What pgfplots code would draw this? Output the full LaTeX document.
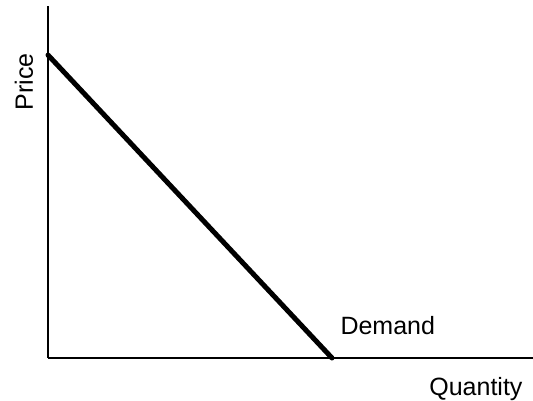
\documentclass[border=0pt]{standalone}
\usepackage{fontspec}
\setmainfont{Liberation Sans}
\usepackage{pgfplots}
\pgfplotsset{compat=1.18}

\begin{document}
\begin{tikzpicture}
\begin{axis}[
    name=ax,
    scale only axis,
    width=485pt, height=352pt,
    xmin=0, xmax=485,
    ymin=0, ymax=352,
    axis x line=bottom,
    axis y line=left,
    axis line style={-, line width=1.1pt, black},
    xtick=\empty, ytick=\empty,
    clip=false,
    font=\fontsize{25}{29}\selectfont
]
\addplot[black, line width=5pt, line cap=round] coordinates {
    (0,303)
    (284,0)
};
\node[anchor=base west] at (axis cs:289,24) {Demand};
\node[anchor=base east] at (axis cs:478,-37) {Quantity};
\node[anchor=base, rotate=90] at (axis cs:-15,276) {Price};
\coordinate (bl) at (axis cs:-48,-42);
\coordinate (tr) at (axis cs:485,358);
\end{axis}
\pgfresetboundingbox
\path (bl) rectangle (tr);
\end{tikzpicture}
\end{document}
